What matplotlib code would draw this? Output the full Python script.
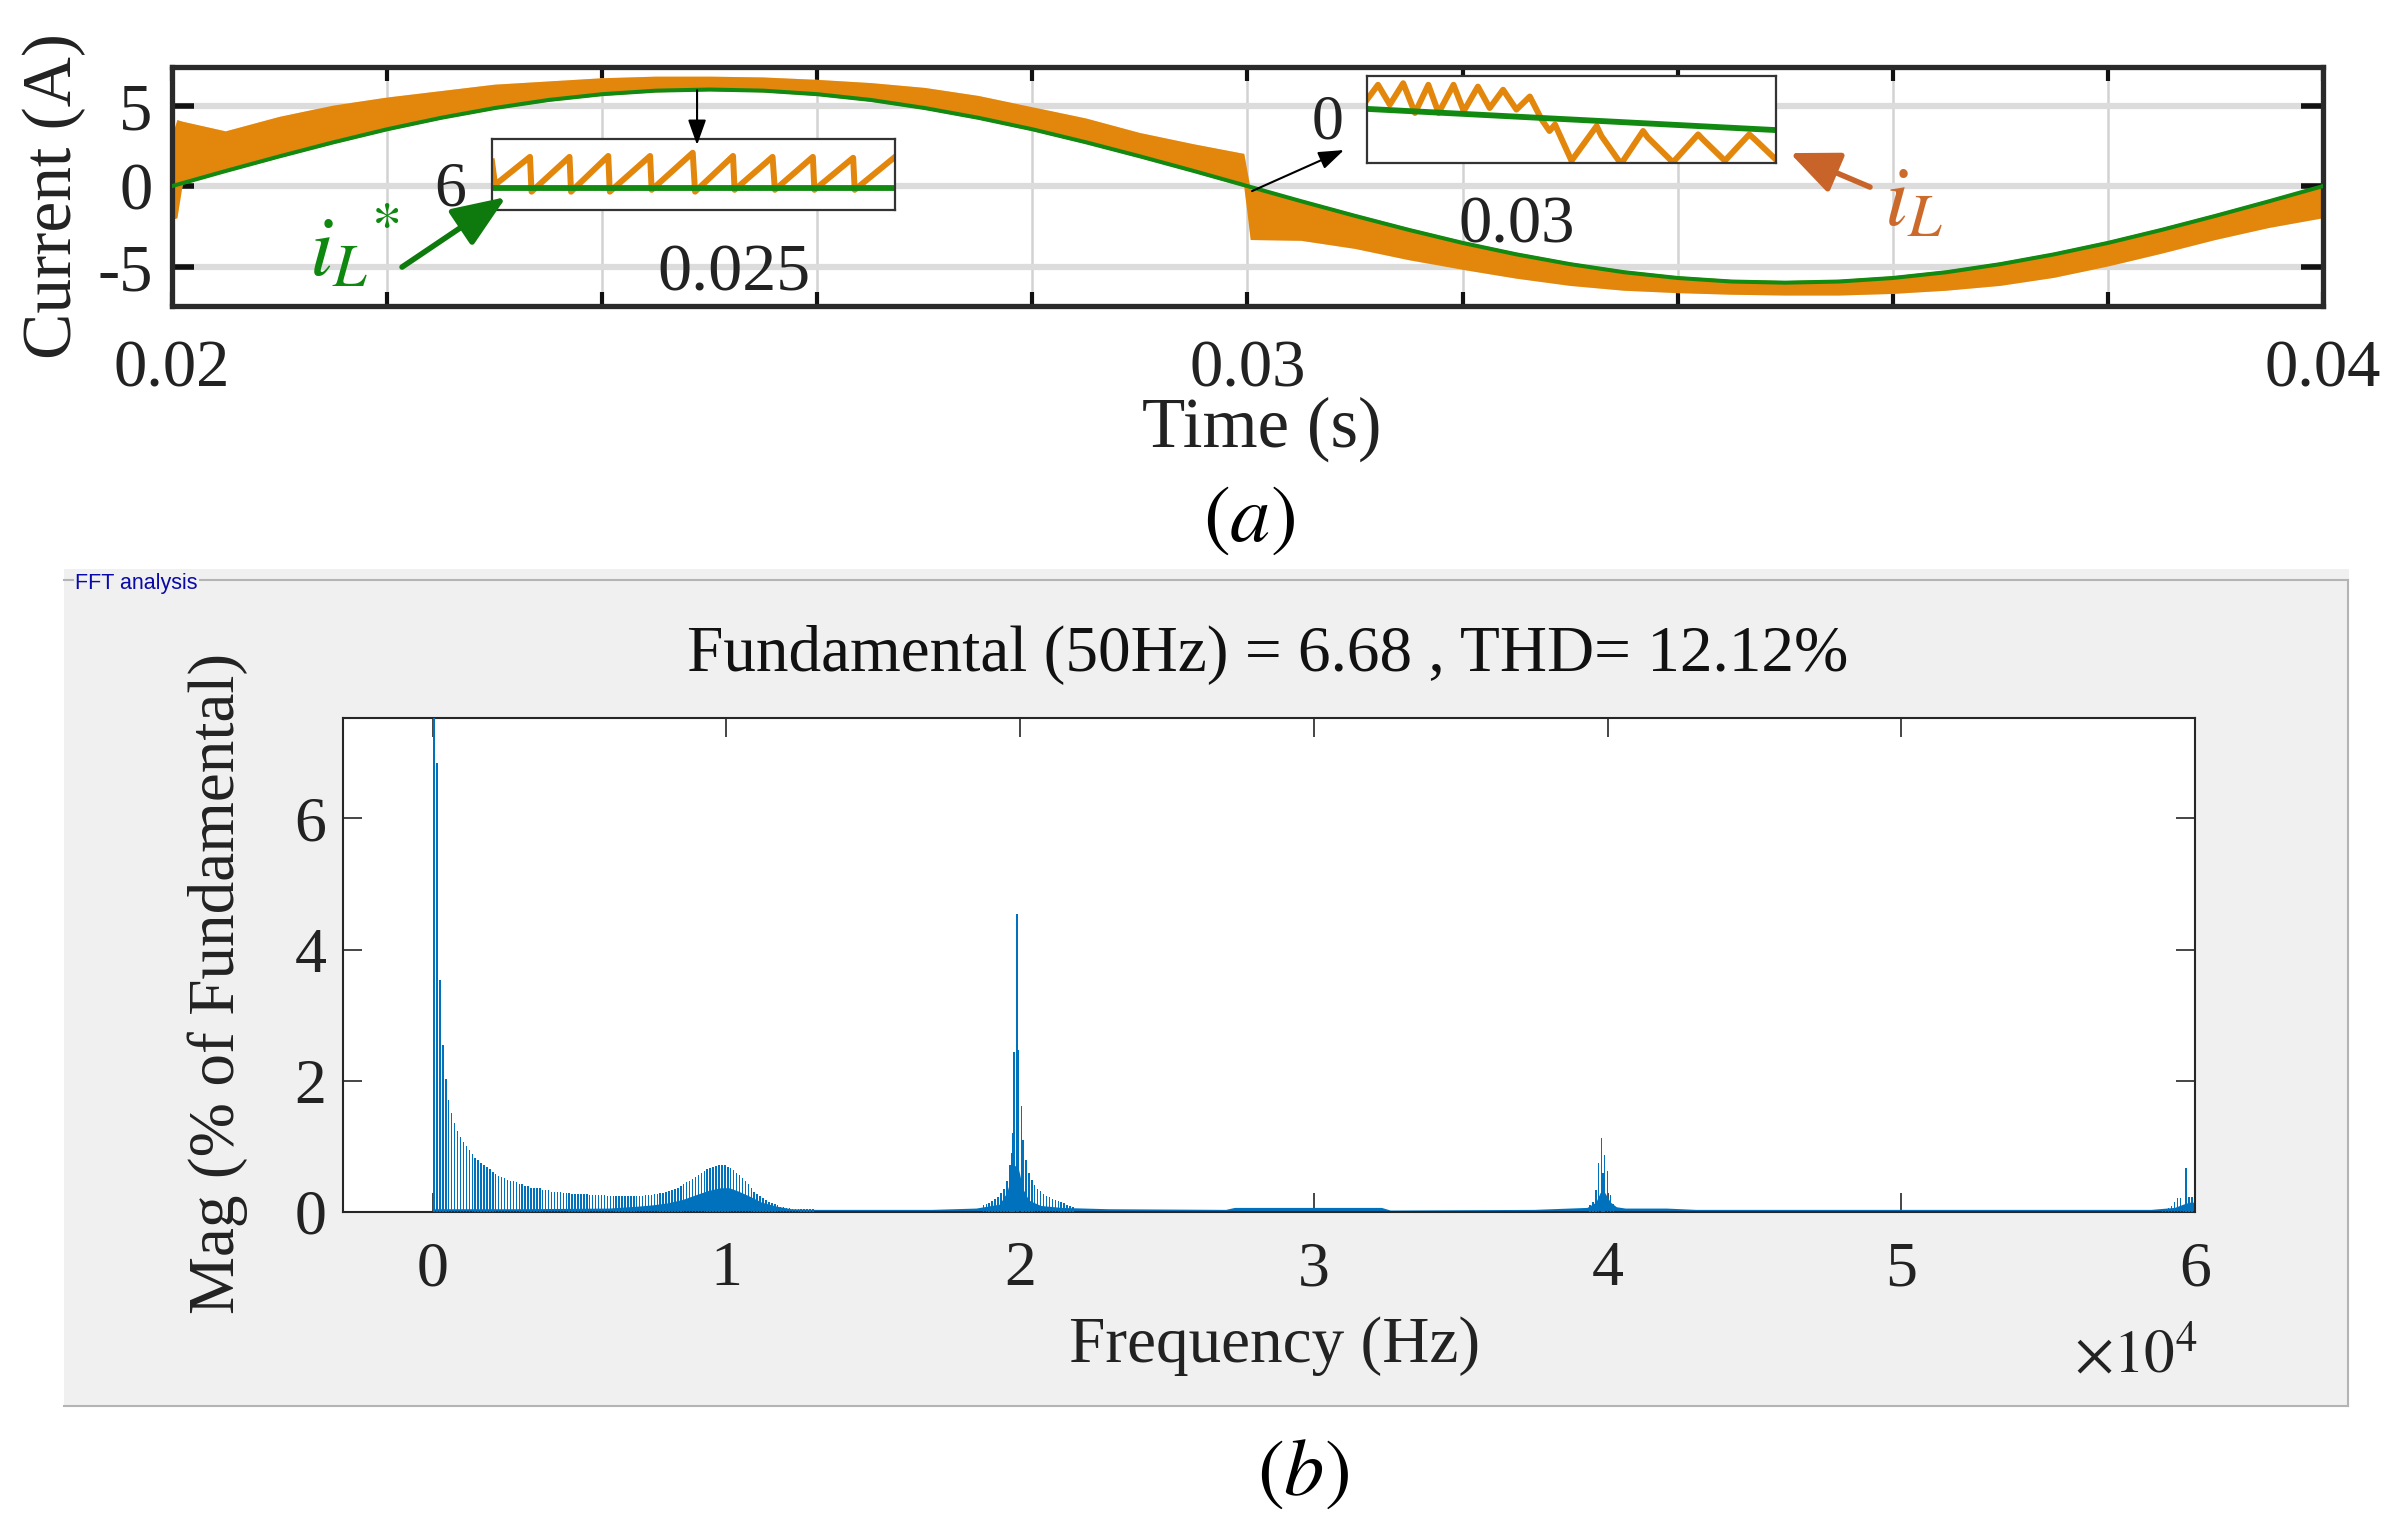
import numpy as np
import matplotlib
matplotlib.use('Agg')
import matplotlib.pyplot as plt
from matplotlib.patches import Rectangle
from matplotlib.lines import Line2D

plt.rcParams['font.family'] = ['Liberation Serif', 'DejaVu Serif']
plt.rcParams['mathtext.fontset'] = 'stix'
plt.rcParams['hatch.linewidth'] = 1.2

# ---------------- data: (a) time-domain current ----------------
t_ref = np.linspace(0.02, 0.04, 41)
i_ref = [0, 0.94, 1.85, 2.72, 3.53, 4.24, 4.85, 5.35, 5.71, 5.93, 6.00, 5.93, 5.71, 5.35,
         4.85, 4.24, 3.53, 2.72, 1.85, 0.94, 0.00, -0.94, -1.85, -2.72, -3.53, -4.24, -4.85,
         -5.35, -5.71, -5.93, -6.00, -5.93, -5.71, -5.35, -4.85, -4.24, -3.53, -2.72, -1.85,
         -0.94, 0.00]

t_band = [0.02000, 0.02005, 0.02010, 0.02050, 0.02100, 0.02150, 0.02200, 0.02250, 0.02300,
          0.02350, 0.02400, 0.02450, 0.02500, 0.02550, 0.02600, 0.02650, 0.02700, 0.02750,
          0.02800, 0.02850, 0.02900, 0.02950, 0.02997, 0.03003, 0.03050, 0.03100, 0.03150,
          0.03200, 0.03250, 0.03300, 0.03350, 0.03400, 0.03450, 0.03500, 0.03550, 0.03600,
          0.03650, 0.03700, 0.03750, 0.03800, 0.03850, 0.03900, 0.03950, 0.04000]
band_hi = [3.0, 4.1, 4.0, 3.4, 4.3, 5.0, 5.5, 5.9, 6.3, 6.5, 6.7, 6.8, 6.8, 6.75, 6.6, 6.4,
           6.1, 5.6, 4.9, 4.2, 3.3, 2.6, 2.0, -0.2, -0.85, -1.75, -2.62, -3.43, -4.14, -4.75,
           -5.25, -5.61, -5.83, -5.90, -5.83, -5.61, -5.25, -4.75, -4.14, -3.43, -2.62, -1.75,
           -0.85, 0.05]
band_lo = [-2.1, -2.0, 0.1, 0.85, 1.75, 2.62, 3.43, 4.14, 4.75, 5.25, 5.61, 5.83, 5.90, 5.83,
           5.61, 5.25, 4.75, 4.14, 3.43, 2.62, 1.75, 0.85, -0.05, -3.35, -3.4, -3.9, -4.6,
           -5.2, -5.75, -6.2, -6.5, -6.65, -6.75, -6.8, -6.8, -6.7, -6.5, -6.2, -5.7, -5.0,
           -4.2, -3.35, -2.6, -2.0]

# inset 1 (around t = 0.025 s), time in microseconds
ins1_t = [0, 4, 49, 51, 100, 102, 150, 152, 204, 206, 259, 262, 311, 313, 362, 365, 414, 416,
          466, 468, 520]
ins1_i = [6.58, 6.07, 6.68, 5.92, 6.68, 5.92, 6.70, 5.92, 6.70, 5.96, 6.77, 5.92, 6.70, 5.96,
          6.68, 5.96, 6.68, 5.96, 6.66, 5.96, 6.68]
ins1_ref_t = [0, 520]
ins1_ref_i = [6.0, 6.0]

# inset 2 (around t = 0.03 s)
ins2_t = [0, 14, 29, 46, 61, 78, 91, 110, 123, 141, 156, 173, 190, 207, 222, 232, 239, 260,
          292, 298, 323, 351, 357, 389, 421, 427, 455, 486, 493, 519]
ins2_i = [0.41, 1.07, 0.19, 1.14, -0.18, 1.07, -0.18, 1.07, -0.10, 0.99, 0.04, 0.85, -0.03,
          0.55, -0.47, -0.98, -0.69, -2.30, -0.76, -1.20, -2.44, -0.98, -1.27, -2.37, -1.13,
          -1.35, -2.30, -1.13, -1.35, -2.22]
ins2_ref_t = [0, 520]
ins2_ref_i = [0.0, -0.94]

x_ticks_a = np.arange(0.02, 0.04001, 0.002)
x_labels_a = ['0.02', '', '', '', '', '0.03', '', '', '', '', '0.04']
y_ticks_a = [-5, 0, 5]
y_labels_a = ['-5', '0', '5']

# ---------------- data: (b) FFT spectrum ----------------
fund_f = [50]
fund_m = [100.0]
odd_f = np.arange(150, 13000, 100)
odd_m = [6.85, 3.54, 2.54, 2.03, 1.71, 1.51, 1.36, 1.24, 1.15, 1.07, 1.00, 0.95, 0.89, 0.83,
         0.80, 0.75, 0.72, 0.68, 0.65, 0.61, 0.58, 0.55, 0.54, 0.52, 0.49, 0.48, 0.48, 0.45,
         0.42, 0.42, 0.40, 0.40, 0.37, 0.37, 0.36, 0.36, 0.34, 0.34, 0.33, 0.31, 0.31, 0.31,
         0.31, 0.29, 0.29, 0.29, 0.28, 0.28, 0.28, 0.28, 0.28, 0.28, 0.26, 0.26, 0.26, 0.26,
         0.26, 0.26,
         0.25, 0.25, 0.25, 0.25, 0.25, 0.25, 0.25, 0.25, 0.25, 0.25, 0.25, 0.25, 0.25,
         0.26, 0.26, 0.26, 0.27, 0.27, 0.29, 0.29, 0.31, 0.32, 0.34, 0.35, 0.37, 0.40, 0.42,
         0.45, 0.48, 0.51, 0.54, 0.57, 0.60, 0.63, 0.65, 0.67, 0.69, 0.70, 0.71, 0.71, 0.71,
         0.69,
         0.67, 0.64, 0.60, 0.56, 0.52, 0.48, 0.43, 0.37, 0.31, 0.28, 0.25, 0.22, 0.19, 0.16,
         0.14, 0.12, 0.10, 0.08, 0.07, 0.06, 0.06, 0.05, 0.05, 0.05, 0.05, 0.04, 0.04, 0.04,
         0.04]
c2_f = [18750, 18850, 18950, 19050, 19150, 19250, 19350, 19450, 19550, 19650, 19700, 19750,
        19800, 19900, 19950, 20050, 20100, 20200, 20300, 20400, 20500, 20600, 20700, 20800,
        20900, 21000, 21100, 21200, 21300, 21400, 21500, 21600, 21700, 21800]
c2_m = [0.10, 0.12, 0.14, 0.17, 0.20, 0.23, 0.29, 0.35, 0.47, 0.72, 0.90, 1.20, 2.44, 4.54,
        2.47, 1.62, 1.10, 0.80, 0.59, 0.49, 0.41, 0.35, 0.32, 0.28, 0.25, 0.23, 0.20, 0.18,
        0.17, 0.15, 0.13, 0.11, 0.09, 0.08]
c4_f = [39400, 39500, 39600, 39700, 39800, 39850, 39900, 40000, 40100, 40200]
c4_m = [0.10, 0.15, 0.34, 0.75, 1.13, 0.60, 0.87, 0.62, 0.26, 0.12]
c6_f = [58900, 59000, 59100, 59200, 59300, 59400, 59500, 59600, 59700, 59800, 59900]
c6_m = [0.03, 0.04, 0.06, 0.09, 0.15, 0.21, 0.21, 0.10, 0.67, 0.23, 0.23]
env_f = [0, 3000, 6000, 7000, 7500, 8000, 8500, 9000, 9400, 9800, 10100, 10400, 10800, 11200,
         11700, 12200, 13000, 17000, 18500, 19300, 19550, 19700, 19800, 19950, 20100, 20300,
         20700, 21400, 23000, 27000, 27300, 32300, 32600, 37500, 39300, 39600, 39750, 39900,
         40100, 40300, 40600, 42000, 43000, 58500, 59300, 59600, 59800, 60000]
env_m = [0.05, 0.05, 0.06, 0.09, 0.11, 0.14, 0.19, 0.27, 0.33, 0.37, 0.37, 0.32, 0.24, 0.15,
         0.09, 0.05, 0.04, 0.04, 0.06, 0.12, 0.30, 0.55, 0.72, 0.65, 0.35, 0.18, 0.10, 0.07,
         0.05, 0.04, 0.07, 0.07, 0.03, 0.04, 0.07, 0.15, 0.30, 0.30, 0.15, 0.08, 0.06, 0.06,
         0.04, 0.04, 0.07, 0.12, 0.15, 0.15]
x_ticks_b = [0, 10000, 20000, 30000, 40000, 50000, 60000]
x_labels_b = ['0', '1', '2', '3', '4', '5', '6']
y_ticks_b = [0, 2, 4, 6]
y_labels_b = ['0', '2', '4', '6']
fft_title = 'Fundamental (50Hz) = 6.68 , THD= 12.12%'

# ---------------- layout helpers ----------------
W, H = 2404, 1534
fig = plt.figure(figsize=(W / 100, H / 100), dpi=100)
fig.patch.set_facecolor('white')


def rect(x0, y0, x1, y1):
    return [x0 / W, 1 - y1 / H, (x1 - x0) / W, (y1 - y0) / H]


def fp(x, y):
    return (x / W, 1 - y / H)


TXT = '#222222'
ORANGE = '#E3860C'
GREEN = '#128A12'
BLUE = '#0072BD'

# background panel of (b), drawn first
bg = fig.add_axes([0, 0, 1, 1], zorder=-10)
bg.set_xlim(0, W)
bg.set_ylim(H, 0)
bg.axis('off')
bg.add_patch(Rectangle((64, 569), 2285, 837, facecolor='#F0F0F0', edgecolor='none'))
for (xa, ya, xb, yb) in [(64, 580, 73, 580), (200, 580, 2348, 580), (2348, 580, 2348, 1406),
                         (64, 1406, 2348, 1406)]:
    bg.add_line(Line2D([xa, xb], [ya, yb], color='#B4B4B4', lw=1.5))

# ---------------- (a) ----------------
ax1 = fig.add_axes(rect(172, 67, 2323, 306))
ax1.fill_between(t_band, band_lo, band_hi, facecolor='#F8D8AC', edgecolor=ORANGE,
                 hatch='|' * 18, linewidth=0, zorder=2)
ax1.plot(t_ref, i_ref, color=GREEN, lw=2.9, zorder=3)
ax1.set_xlim(0.02, 0.04)
ax1.set_ylim(-7.45, 7.4)
ax1.set_xticks(x_ticks_a)
ax1.set_xticklabels(x_labels_a)
ax1.set_yticks(y_ticks_a)
ax1.set_yticklabels(y_labels_a)
ax1.set_axisbelow(True)
ax1.xaxis.grid(True, color='#D2D2D2', lw=1.8)
ax1.yaxis.grid(True, color='#DCDCDC', lw=4.5)
for s in ax1.spines.values():
    s.set_linewidth(3.8)
    s.set_color('#2A2A2A')
ax1.tick_params(axis='both', direction='in', top=True, right=True, labelsize=48,
                colors='#111111', labelcolor=TXT)
ax1.tick_params(axis='x', length=10, width=3, pad=24)
ax1.tick_params(axis='y', length=16, width=4, pad=14)

fig.text(*fp(1262, 429), 'Time (s)', fontsize=51, color=TXT, ha='center', va='center')
fig.text(*fp(54, 196), 'Current (A)', fontsize=50, color=TXT, ha='center', va='center',
         rotation=90)
fig.text(*fp(1249, 521), r'$(a)$', fontsize=58, color='black', ha='center', va='center')

# insets
ins1 = fig.add_axes(rect(492, 139, 895, 210))
ins1.plot(ins1_t, ins1_i, color=ORANGE, lw=4.3)
ins1.plot(ins1_ref_t, ins1_ref_i, color=GREEN, lw=4.2)
ins1.set_xlim(0, 520)
ins1.set_ylim(5.52, 7.07)
ins2 = fig.add_axes(rect(1367, 76, 1776, 163))
ins2.plot(ins2_t, ins2_i, color=ORANGE, lw=4.3)
ins2.plot(ins2_ref_t, ins2_ref_i, color=GREEN, lw=4.2)
ins2.set_xlim(0, 520)
ins2.set_ylim(-2.40, 1.46)
for ins in (ins1, ins2):
    ins.set_xticks([])
    ins.set_yticks([])
    ins.set_facecolor('white')
    for s in ins.spines.values():
        s.set_linewidth(1.6)
        s.set_color('#333333')

# overlay axes (same data frame as ax1) for annotations
ov = fig.add_axes(ax1.get_position(), frameon=False)
ov.set_xlim(ax1.get_xlim())
ov.set_ylim(ax1.get_ylim())
ov.set_xticks([])
ov.set_yticks([])
ov.patch.set_alpha(0)

ov.text(0.022585, -0.25, '6', fontsize=46, color=TXT, ha='center', va='center')
ov.text(0.025226, -5.47, '0.025', fontsize=49, color=TXT, ha='center', va='center')
ov.text(0.030749, 3.91, '0', fontsize=46, color=TXT, ha='center', va='center')
ov.text(0.032506, -2.48, '0.03', fontsize=48, color=TXT, ha='center', va='center')
ov.text(0.021700, -3.98, r'$i_{L}{}^{*}$', fontsize=62, color='#0E880E', ha='center',
        va='center')
ov.text(0.036197, -1.18, r'$i_{L}$', fontsize=62, color='#CC6A2C', ha='center', va='center')

ov.annotate('', xy=(0.024882, 2.55), xytext=(0.024882, 5.96), annotation_clip=False,
            arrowprops=dict(arrowstyle='-|>,head_length=0.7,head_width=0.25', color='black',
                            lw=1.5, shrinkA=0, shrinkB=0, mutation_scale=22))
ov.annotate('', xy=(0.030897, 2.24), xytext=(0.030042, -0.31), annotation_clip=False,
            arrowprops=dict(arrowstyle='-|>,head_length=0.7,head_width=0.25', color='black',
                            lw=1.5, shrinkA=0, shrinkB=0, mutation_scale=22))
ov.annotate('', xy=(0.023106, -0.68), xytext=(0.022139, -5.03), annotation_clip=False,
            arrowprops=dict(arrowstyle='-|>,head_length=0.6,head_width=0.24', color='#0E7A0E',
                            lw=4.0, shrinkA=0, shrinkB=0, mutation_scale=55))
ov.annotate('', xy=(0.035044, 2.05), xytext=(0.035788, -0.06), annotation_clip=False,
            arrowprops=dict(arrowstyle='-|>,head_length=0.6,head_width=0.26', color='#C8642A',
                            lw=4.0, shrinkA=0, shrinkB=0, mutation_scale=50))

# ---------------- (b) ----------------
fig.text(*fp(75, 583), 'FFT analysis', fontsize=15.5, color='#0A0AA8', ha='left',
         va='center', family='Liberation Sans')

ax2 = fig.add_axes(rect(343, 718, 2195, 1212))
ax2.fill_between(env_f, 0, env_m, color=BLUE, lw=0, zorder=2)
ax2.bar(fund_f, fund_m, width=60, color=BLUE, lw=0, zorder=3)
ax2.bar(odd_f, odd_m, width=50, color=BLUE, lw=0, zorder=3)
ax2.bar(c2_f, c2_m, width=50, color=BLUE, lw=0, zorder=3)
ax2.bar(c4_f, c4_m, width=50, color=BLUE, lw=0, zorder=3)
ax2.bar(c6_f, c6_m, width=50, color=BLUE, lw=0, zorder=3)
ax2.set_xlim(-3050, 60000)
ax2.set_ylim(0, 7.53)
ax2.set_xticks(x_ticks_b)
ax2.set_xticklabels(x_labels_b)
ax2.set_yticks(y_ticks_b)
ax2.set_yticklabels(y_labels_b)
ax2.set_facecolor('white')
for s in ax2.spines.values():
    s.set_linewidth(1.5)
    s.set_color('#262626')
ax2.tick_params(axis='both', direction='in', top=True, right=True, labelsize=46,
                length=14, width=1.2, colors='#262626', labelcolor=TXT)
ax2.tick_params(axis='x', pad=21)
ax2.tick_params(axis='y', pad=12)

fig.text(*fp(1268, 655), fft_title, fontsize=47, color='#111111', ha='center', va='center')
fig.text(*fp(1275, 1346), 'Frequency (Hz)', fontsize=47, color=TXT, ha='center',
         va='center')
fig.text(*fp(2074, 1357), r'$\times 10^{4}$', fontsize=44, color=TXT, ha='left',
         va='center')
fig.text(*fp(218, 983), 'Mag (% of Fundamental)', fontsize=47, color=TXT, ha='center',
         va='center', rotation=90)
fig.text(*fp(1303, 1475), r'$(b)$', fontsize=58, color='black', ha='center', va='center')

fig.savefig('out.png', dpi=100, facecolor='white')
